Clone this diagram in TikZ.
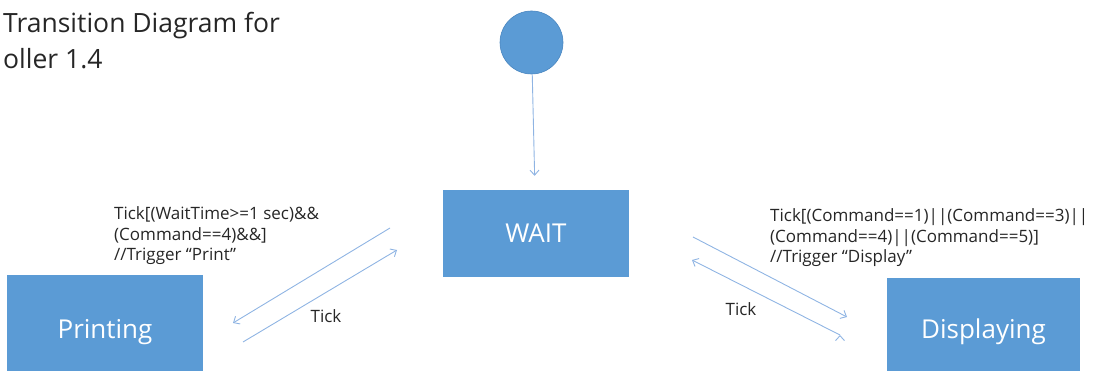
\documentclass[tikz,border=0pt]{standalone}
\usepackage{fontspec}
\setmainfont{Open Sans}
\usetikzlibrary{positioning, arrows.meta}

\definecolor{boxblue}{HTML}{5B9BD5}
\definecolor{edgeblue}{HTML}{4A86C0}
\definecolor{lineblue}{HTML}{8FB4E3}
\definecolor{textgray}{HTML}{262626}

\begin{document}
\begin{tikzpicture}[x=1pt, y=-1pt, >={Straight Barb[length=5pt,width=9pt]},
    auto, align=center]

    \tikzset{
      state/.style = {shape=rectangle, fill=boxblue, text=white,
        font=\fontsize{26}{30}\selectfont},
      startnode/.style = {shape=circle, fill=boxblue, draw=edgeblue,
        line width=0.6pt, minimum size=63pt, inner sep=0pt},
      trans/.style = {draw=lineblue, line width=0.9pt},
      guard/.style = {align=left, text=textgray, inner sep=0pt,
        font=\fontsize{17}{20.5}\selectfont},
    }

    \useasboundingbox (0,0) rectangle (1104,371);

    \node[align=left, anchor=north west, inner sep=0pt, text=textgray,
      font=\fontsize{26.5}{36}\selectfont] (title) at (3,12)
      {Transition Diagram for\\oller 1.4};

    \node[startnode] (start) at (531.5,42.5) {};
    \node[state, minimum width=186pt, minimum height=87pt] (wait) at (536,233.5) {WAIT};
    \node[state, minimum width=196pt, minimum height=114pt] (print) at (105,332) {Printing};
    \node[state, minimum width=193pt, minimum height=108pt] (disp) at (983.5,332) {Displaying};

    \coordinate (wp1) at (390,228);
    \coordinate (wp2) at (233,323);
    \coordinate (pw1) at (243,342);
    \coordinate (pw2) at (397,250);
    \coordinate (wd1) at (693,237);
    \coordinate (wd2) at (847,317);
    \coordinate (dw1) at (840,335);
    \coordinate (dw2) at (692,260);

    \path[->, trans]
      (start) edge[shorten >=14pt] (wait)
      (wp1) edge (wp2)
      (pw1) edge (pw2)
      (wd1) edge (wd2)
      (dw1) edge (dw2);

    % guards
    \node[guard, anchor=west] (printguard) at (114,236)
      {Tick[(WaitTime>=1 sec)\&\&\\(Command==4)\&\&]\\//Trigger “Print”};
    \node[guard, anchor=west] (dispguard) at (770,238)
      {Tick[(Command==1)||(Command==3)||\\(Command==4)||(Command==5)]\\//Trigger “Display”};

    \node[guard] (tickleft) at (326,316) {Tick};
    \node[guard] (tickright) at (741,309) {Tick};

  \end{tikzpicture}
\end{document}
